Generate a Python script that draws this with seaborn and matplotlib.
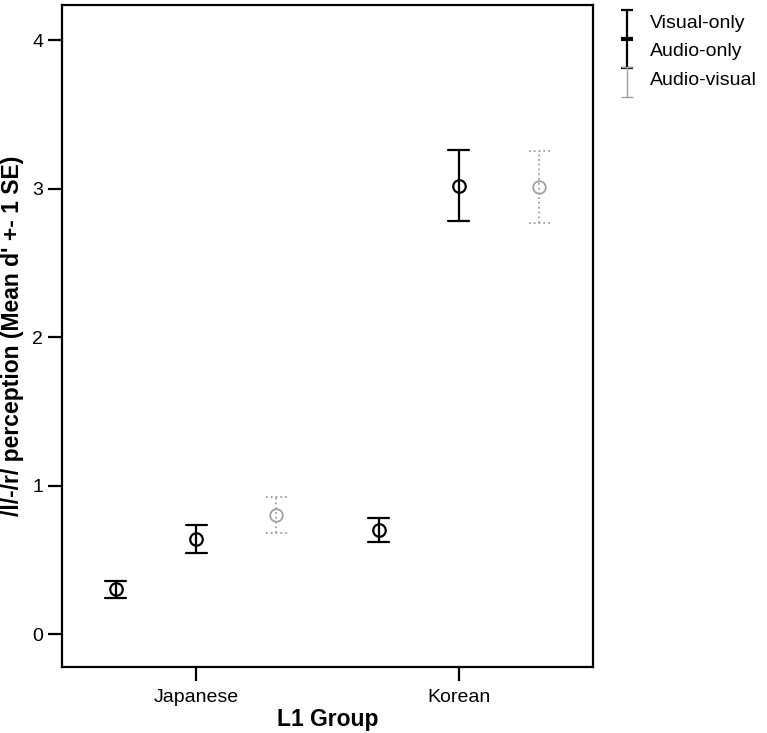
import numpy as np
import pandas as pd
import matplotlib
matplotlib.use("Agg")
import matplotlib.pyplot as plt
from matplotlib.path import Path
from matplotlib.lines import Line2D
import seaborn as sns

# values (mean d' and +-1 SE)
groups = ["Japanese", "Korean"]
conditions = ["Visual-only", "Audio-only", "Audio-visual"]
means = {
    "Japanese": [0.30, 0.64, 0.80],
    "Korean": [0.70, 3.02, 3.01],
}
ses = {
    "Japanese": [0.055, 0.095, 0.12],
    "Korean": [0.083, 0.24, 0.24],
}
colors = ["black", "black", "#a0a0a0"]

# long table: two rows per cell (mean - se, mean + se) so seaborn's
# mean gives the centre and the min/max give the error bar
rows = []
for g in groups:
    for c, m, s in zip(conditions, means[g], ses[g]):
        rows.append({"group": g, "cond": c, "value": m - s})
        rows.append({"group": g, "cond": c, "value": m + s})
df = pd.DataFrame(rows)

sns.set_style("ticks")
plt.rcParams["font.family"] = ["Liberation Sans", "DejaVu Sans"]
plt.rcParams["axes.linewidth"] = 1.6
plt.rcParams["text.color"] = "black"
plt.rcParams["axes.labelcolor"] = "black"
plt.rcParams["xtick.color"] = "black"
plt.rcParams["ytick.color"] = "black"

fig = plt.figure(figsize=(7.67, 7.33), dpi=100)
ax = fig.add_axes([62 / 767, 1 - 667 / 733, 531 / 767, 662 / 733])

sns.pointplot(
    data=df, x="group", y="value", hue="cond",
    order=groups, hue_order=conditions,
    palette=colors, estimator="mean",
    errorbar=lambda v: (v.min(), v.max()),
    dodge=0.61, linestyles="none", markers="o",
    capsize=0.08, legend=False,
    err_kws={"linestyle": "-", "linewidth": 1.6},
    markersize=9, markeredgewidth=1.6, markerfacecolor="none",
    ax=ax,
)

# audio-visual bars are drawn dotted and thinner
for ln in ax.lines:
    if matplotlib.colors.to_hex(ln.get_color()) == "#a0a0a0":
        if ln.get_marker() in (None, "None", "none", ""):
            ln.set_linestyle(":")
            ln.set_linewidth(1.3)
        else:
            ln.set_markeredgewidth(1.3)

ax.set_xlim(-0.51, 1.51)
ax.set_ylim(-0.222, 4.236)
ax.set_yticks([0, 1, 2, 3, 4])
ax.tick_params(axis="both", length=10, width=1.6, labelsize=14, color="black",
               labelcolor="black")
ax.tick_params(axis="x", pad=6)
ax.set_xlabel("L1 Group", fontsize=16.5, fontweight="bold", labelpad=1)
ax.set_ylabel("/l/-/r/ perception (Mean d' +- 1 SE)", fontsize=16.5,
              fontweight="bold", labelpad=6)
for sp in ax.spines.values():
    sp.set_visible(True)
    sp.set_color("black")

# legend with I-shaped error bar handles (sitting a little below the text)
ibar = Path(
    [(-0.32, -1), (0.32, -1), (0, -1), (0, 0.6), (-0.32, 0.6), (0.32, 0.6)],
    [Path.MOVETO, Path.LINETO, Path.MOVETO, Path.LINETO, Path.MOVETO, Path.LINETO],
)
handles = [
    Line2D([], [], linestyle="none", marker=ibar, markersize=27,
           markeredgecolor=c, markerfacecolor="none",
           markeredgewidth=1.6 if c == "black" else 1.0)
    for c in colors
]
fig.legend(handles, conditions, loc="upper left",
           bbox_to_anchor=(617 / 767, 1 - 14 / 733), frameon=False,
           fontsize=14, handlelength=1.0, handletextpad=0.7,
           labelspacing=0.56, borderpad=0, borderaxespad=0)

fig.savefig("out.png", dpi=100)
